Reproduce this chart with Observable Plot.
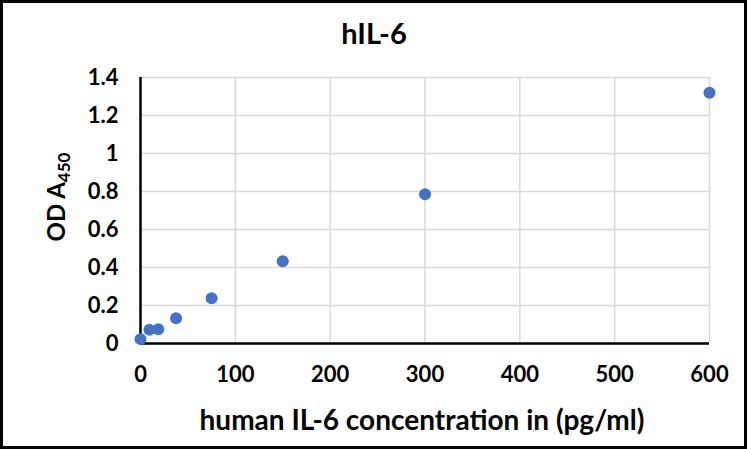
<!DOCTYPE html>
<html>
<head>
<meta charset="utf-8">
<script src="https://cdn.jsdelivr.net/npm/d3@7"></script>
<script src="https://cdn.jsdelivr.net/npm/@observablehq/plot@0.6"></script>
<style>
  html, body { margin: 0; padding: 0; background: #fff; }
  #chart svg { display: block; outline: 3px solid #000; outline-offset: -3px; }
</style>
</head>
<body>
<div id="chart"></div>
<script>
const concentration = [0, 9.375, 18.75, 37.5, 75, 150, 300, 600];
const odA450 = [0.023, 0.072, 0.075, 0.133, 0.238, 0.433, 0.786, 1.32];
const xTicks = [0, 100, 200, 300, 400, 500, 600];
const yTicks = [0, 0.2, 0.4, 0.6, 0.8, 1, 1.2, 1.4];
const titleText = "hIL-6";
const xLabel = "human IL-6 concentration in (pg/ml)";

const data = concentration.map((c, i) => ({c, od: odA450[i]}));

const font = "Lato, 'Open Sans', sans-serif";

const plot = Plot.plot({
  width: 747,
  height: 449,
  marginLeft: 140,
  marginRight: 38,
  marginTop: 77,
  marginBottom: 106,
  style: {fontFamily: font, fontWeight: "bold", fontSize: "22px", color: "#000", background: "#fff"},
  x: {domain: [0, 600], ticks: xTicks, tickSize: 0, tickPadding: 24, label: null},
  y: {domain: [0, 1.4], ticks: yTicks, tickSize: 0, tickPadding: 22, label: null, tickFormat: d => String(+d.toFixed(1))},
  marks: [
    Plot.gridY(yTicks.filter(d => d > 0), {stroke: "#d9d9d9", strokeOpacity: 1, strokeWidth: 1.5}),
    Plot.gridX(xTicks.filter(d => d > 0), {stroke: "#d9d9d9", strokeOpacity: 1, strokeWidth: 1.5}),
    Plot.axisX({ticks: xTicks, tickSize: 0, tickPadding: 23, fontSize: 22, label: null}),
    Plot.axisY({ticks: yTicks, tickSize: 0, tickPadding: 22, fontSize: 22, label: null, tickFormat: d => String(+d.toFixed(1))}),
    Plot.ruleX([0], {stroke: "#000", strokeWidth: 2.5}),
    Plot.ruleY([0], {stroke: "#000", strokeWidth: 2.5}),
    Plot.dot(data, {x: "c", y: "od", r: 6, fill: "#4472C4", stroke: "none"}),
    Plot.text([titleText], {frameAnchor: "top", dx: -51, dy: -54, fontSize: 29, fontWeight: "bold", fill: "#000"}),
    Plot.text([xLabel], {frameAnchor: "bottom", dx: -3, dy: 86, fontSize: 28, fontWeight: "bold", fill: "#000"})
  ]
});

// y axis label with subscript
const svg = d3.select(plot);
const yl = svg.append("text")
  .attr("transform", "translate(65,197) rotate(-90)")
  .attr("text-anchor", "middle")
  .attr("font-family", font)
  .attr("font-weight", "bold")
  .attr("font-size", 24)
  .attr("fill", "#000");
yl.append("tspan").text("OD A");
yl.append("tspan").attr("font-size", 17).attr("dy", 5).text("450");

document.getElementById("chart").appendChild(plot);
</script>
</body>
</html>
